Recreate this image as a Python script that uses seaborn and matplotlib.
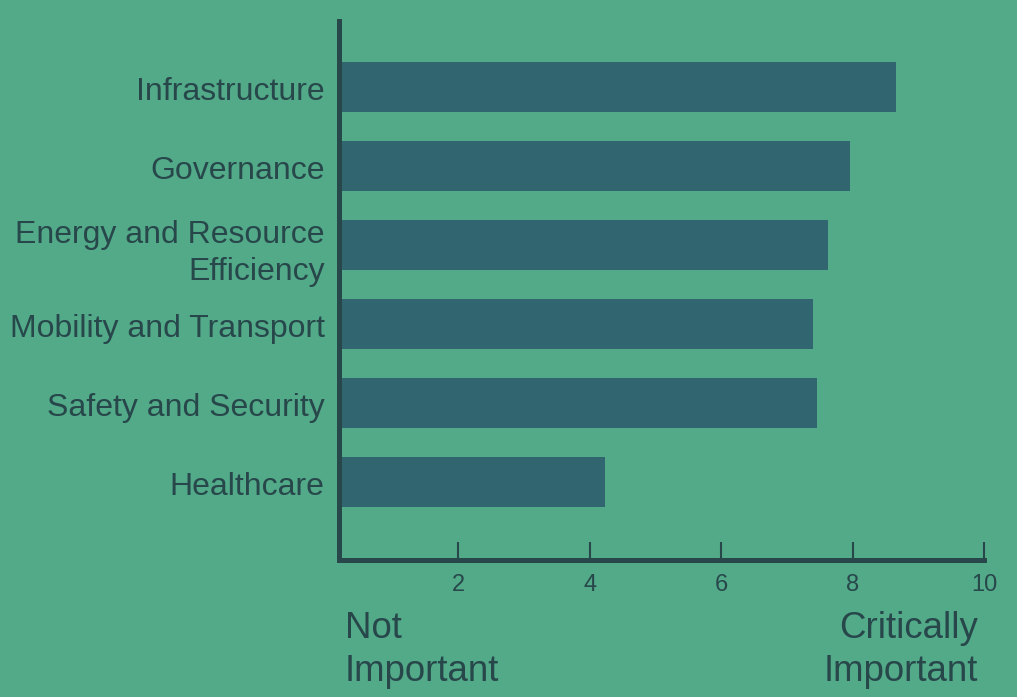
import matplotlib
matplotlib.use("Agg")
import matplotlib.pyplot as plt
import matplotlib.transforms as mtransforms
import seaborn as sns
import pandas as pd

categories = ["Infrastructure", "Governance", "Energy and Resource\nEfficiency",
              "Mobility and Transport", "Safety and Security", "Healthcare"]
scores = [8.66, 7.96, 7.63, 7.40, 7.46, 4.23]
tick_values = [2, 4, 6, 8, 10]
tick_labels = ["2", "4", "6", "8", "10"]
low_label = "Not\nImportant"
high_label = "Critically\nImportant"

BG = "#52AA88"
BAR = "#316670"
INK = "#27474B"

sns.set_theme(style="white")
plt.rcParams["font.family"] = ["Liberation Sans", "DejaVu Sans"]

df = pd.DataFrame({"category": categories, "score": scores})

fig = plt.figure(figsize=(10.17, 6.97), dpi=100, facecolor=BG)
ax = fig.add_axes([338.5 / 1017, 1 - 560 / 697, (984 - 338.5) / 1017, (560 - 21) / 697])
ax.set_facecolor(BG)

sns.barplot(data=df, x="score", y="category", orient="h", color=BAR,
            saturation=1, width=0.633, linewidth=0, edgecolor="none", ax=ax)

ax.set_xlim(0.18, 10)
ax.set_ylim(5.99, -0.835)
ax.set_xticks(tick_values)
ax.set_xticklabels(tick_labels)
ax.set_xlabel("")
ax.set_ylabel("")

for s in ["top", "right"]:
    ax.spines[s].set_visible(False)
for s in ["left", "bottom"]:
    ax.spines[s].set_color(INK)
    ax.spines[s].set_linewidth(3.6)
    ax.spines[s].set_capstyle("projecting")

ax.tick_params(axis="x", bottom=True, direction="in", length=13, width=1.5, color=INK,
               labelsize=17, labelcolor=INK, pad=10)
ax.tick_params(axis="y", left=False, length=0, labelsize=23, labelcolor=INK, pad=10)
shift = mtransforms.ScaledTranslation(0, -2 / 100, fig.dpi_scale_trans)
for lab in ax.get_yticklabels():
    lab.set_multialignment("right")
    lab.set_linespacing(1.3)
    lab.set_transform(lab.get_transform() + shift)

fig.text(345 / 1017, 1 - 611 / 697, low_label, ha="left", va="top",
         fontsize=26.4, color=INK, linespacing=1.3)
fig.text(978 / 1017, 1 - 611 / 697, high_label, ha="right", va="top",
         fontsize=26.4, color=INK, linespacing=1.3, multialignment="right")

fig.savefig("out.png", dpi=100, facecolor=BG)
